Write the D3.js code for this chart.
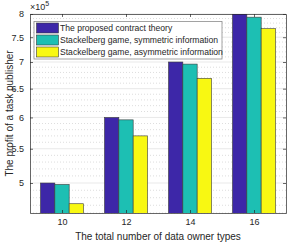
<!doctype html>
<html>
<head>
<meta charset="utf-8">
<script src="https://d3js.org/d3.v7.min.js"></script>
<style>
  body { margin: 0; background: #fff; }
  text { font-family: "Liberation Sans", Arial, sans-serif; fill: #262626; }
</style>
</head>
<body>
<svg width="291" height="244"></svg>
<script>
// data (profit, x 1e5)
var types = [10, 12, 14, 16];
var seriesNames = ["The proposed contract theory",
                   "Stackelberg game, symmetric information",
                   "Stackelberg game, asymmetric information"];
var contract = [5.00e5, 6.00e5, 7.00e5, 8.03e5];
var symmetric = [4.98e5, 5.96e5, 6.96e5, 7.93e5];
var asymmetric = [4.72e5, 5.70e5, 6.69e5, 7.68e5];
var yTicks = [5e5, 5.5e5, 6e5, 6.5e5, 7e5, 7.5e5, 8e5];
var colors = ["#3d27a8", "#1dbfb3", "#f8f812"];

var svg = d3.select("svg"),
    pLeft = 30, pRight = 286, pTop = 14, pBottom = 213;

var x = d3.scaleLinear().domain([9, 17]).range([pLeft, pRight]);
var y = d3.scaleLog().domain([4.6e5, 8e5]).range([pBottom, pTop]);
var inner = d3.scaleBand().domain(d3.range(3)).range([-21.5, 21.5]);

// minor grid (dotted) every 0.1e5
var minor = d3.range(46, 81).map(function(d) { return d * 1e4; })
    .filter(function(d) { return yTicks.indexOf(d) < 0; });
svg.append("g").selectAll("line").data(minor).enter().append("line")
    .attr("x1", pLeft).attr("x2", pRight)
    .attr("y1", function(d) { return y(d); }).attr("y2", function(d) { return y(d); })
    .attr("stroke", "#cfcfcf").attr("stroke-dasharray", "1,2").attr("stroke-width", 0.7);
svg.append("g").selectAll("line").data(yTicks).enter().append("line")
    .attr("x1", pLeft).attr("x2", pRight)
    .attr("y1", function(d) { return y(d); }).attr("y2", function(d) { return y(d); })
    .attr("stroke", "#e3e3e3").attr("stroke-width", 0.8);

svg.append("clipPath").attr("id", "clip").append("rect")
    .attr("x", pLeft).attr("y", pTop).attr("width", pRight - pLeft).attr("height", pBottom - pTop);

var all = [contract, symmetric, asymmetric];
var bars = svg.append("g").attr("clip-path", "url(#clip)");
all.forEach(function(vals, s) {
  bars.selectAll(".b" + s).data(vals).enter().append("rect")
      .attr("class", "b" + s)
      .attr("x", function(d, i) { return x(types[i]) + inner(s); })
      .attr("width", inner.bandwidth())
      .attr("y", function(d) { return y(d); })
      .attr("height", function(d) { return pBottom + 2 - y(d); })
      .attr("fill", colors[s])
      .attr("stroke", "#3a3a3a").attr("stroke-width", 0.6);
});

// axes (box with inward ticks)
var yAxis = d3.axisLeft(y).tickValues(yTicks).tickSizeInner(-3).tickSizeOuter(0)
    .tickPadding(6).tickFormat(function(d) { return d / 1e5; });
var gy = svg.append("g").attr("transform", "translate(" + pLeft + ",0)").call(yAxis);
var gy2 = svg.append("g").attr("transform", "translate(" + pRight + ",0)")
    .call(d3.axisRight(y).tickValues(yTicks).tickSizeInner(-3).tickSizeOuter(0).tickFormat(""));
var xAxis = d3.axisBottom(x).tickValues(types).tickSizeInner(-3).tickSizeOuter(0).tickPadding(6);
var gx = svg.append("g").attr("transform", "translate(0," + pBottom + ")").call(xAxis);
var gx2 = svg.append("g").attr("transform", "translate(0," + pTop + ")")
    .call(d3.axisTop(x).tickValues(types).tickSizeInner(-3).tickSizeOuter(0).tickFormat(""));
[gy, gy2, gx, gx2].forEach(function(g) {
  g.selectAll("path, line").attr("stroke", "#262626").attr("stroke-width", 0.7);
  g.selectAll("text").attr("font-size", 9).attr("fill", "#262626")
      .style("font-family", "'Liberation Sans', Arial, sans-serif");
});

// exponent
var ex = svg.append("text").attr("x", 30).attr("y", 10).attr("font-size", 9);
ex.append("tspan").text("\u00d710");
ex.append("tspan").attr("dy", -4).attr("font-size", 7).text("5");

// axis labels
svg.append("text").attr("x", (pLeft + pRight) / 2).attr("y", 240)
    .attr("text-anchor", "middle").attr("font-size", 10)
    .text("The total number of data owner types");
svg.append("text").attr("transform", "translate(13," + (pTop + pBottom) / 2 + ") rotate(-90)")
    .attr("text-anchor", "middle").attr("font-size", 10)
    .text("The profit of a task publisher");

// legend
var lg = svg.append("g");
lg.append("rect").attr("x", 34).attr("y", 21.5).attr("width", 188).attr("height", 37.5)
    .attr("fill", "#fff").attr("stroke", "#8c8c8c").attr("stroke-width", 0.8);
seriesNames.forEach(function(n, i) {
  var yy = 28 + i * 12;
  lg.append("rect").attr("x", 36.5).attr("y", yy - 5).attr("width", 22).attr("height", 10)
      .attr("fill", colors[i]).attr("stroke", "#3a3a3a").attr("stroke-width", 0.6);
  lg.append("text").attr("x", 60).attr("y", yy + 3).attr("font-size", 8.6).text(n);
});
</script>
</body>
</html>
